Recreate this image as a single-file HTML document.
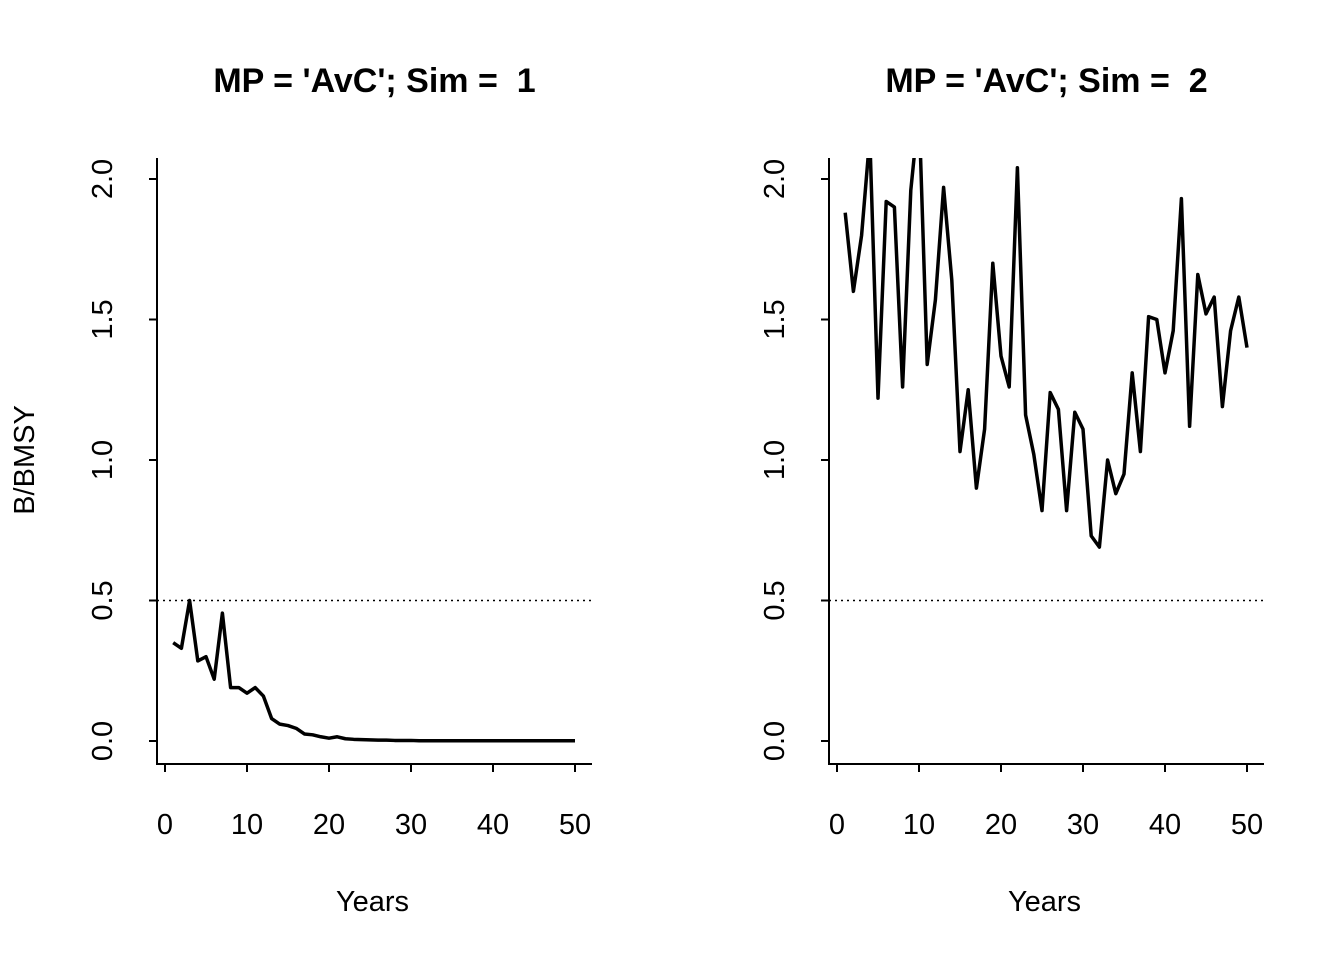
<!DOCTYPE html>
<html><head><meta charset="utf-8"><style>
body{margin:0;background:#fff}
svg{display:block;font-family:"Liberation Sans",Arial,sans-serif}
svg text{white-space:pre}
</style></head><body>
<svg id="chart" width="1344" height="960"></svg>
<script>
const years = Array.from({length:50},(_,i)=>i+1);
const sim1 = [0.35,0.33,0.50,0.285,0.30,0.22,0.455,0.19,0.19,0.17,0.19,0.16,0.08,0.06,0.055,0.045,0.025,0.022,0.015,0.01,0.015,0.008,0.006,0.005,0.004,0.003,0.003,0.002,0.002,0.002,0.001,0.001,0.001,0.001,0.001,0.001,0.001,0.001,0.001,0.001,0.001,0.001,0.001,0.001,0.001,0.001,0.001,0.001,0.001,0.001];
const sim2 = [1.88,1.60,1.80,2.15,1.22,1.92,1.90,1.26,1.96,2.25,1.34,1.57,1.97,1.64,1.03,1.25,0.90,1.11,1.70,1.37,1.26,2.04,1.16,1.02,0.82,1.24,1.18,0.82,1.17,1.11,0.73,0.69,1.00,0.88,0.95,1.31,1.03,1.51,1.50,1.31,1.46,1.93,1.12,1.66,1.52,1.58,1.19,1.46,1.58,1.40];
const xTicks = [0,10,20,30,40,50];
const yTicks = [0,0.5,1.0,1.5,2.0];
const yTickLabels = ["0.0","0.5","1.0","1.5","2.0"];
const titles = ["MP = 'AvC'; Sim =  1","MP = 'AvC'; Sim =  2"];
const refLine = 0.5;

const NS="http://www.w3.org/2000/svg";
const svg=document.getElementById('chart');
function mk(tag,attrs,parent){const e=document.createElementNS(NS,tag);for(const k in attrs)e.setAttribute(k,attrs[k]);(parent||svg).appendChild(e);return e;}

function panel(idx, series, x0){
  const g=mk('g',{});
  
  
  const sx=v=>x0+8+v*8.2;
  const sy=v=>741-v*281;
  const left=x0, right=x0+435, top=158, bottom=764;
  const cid='clip'+idx;
  const cp=mk('clipPath',{id:cid},g);mk('rect',{x:left,y:top,width:right-left,height:bottom-top},cp);
  const t=mk('text',{x:(left+right)/2,y:92,'text-anchor':'middle','font-size':34,'font-weight':'bold'},g);
  t.textContent=titles[idx];
  
  
  const ax=mk('path',{d:`M${left},${top}V${bottom}H${right}`,stroke:'#000','stroke-width':2,fill:'none'},g);
  
  
  xTicks.forEach(v=>{
    mk('line',{x1:sx(v),x2:sx(v),y1:bottom,y2:bottom+8,stroke:'#000','stroke-width':2},g);
    const l=mk('text',{x:sx(v),y:834,'text-anchor':'middle','font-size':29},g);l.textContent=v;
    
    
  });
  yTicks.forEach((v,i)=>{
    mk('line',{x1:left,x2:left-8,y1:sy(v),y2:sy(v),stroke:'#000','stroke-width':2},g);
    const l=mk('text',{x:0,y:0,'text-anchor':'middle','font-size':29,transform:`translate(${left-45},${sy(v)}) rotate(-90)`},g);l.textContent=yTickLabels[i];
    
    
  });
  const xl=mk('text',{x:(left+right)/2-2,y:911,'text-anchor':'middle','font-size':29},g);xl.textContent='Years';
  
  
  const rl=mk('line',{x1:left,x2:right,y1:sy(refLine),y2:sy(refLine),stroke:'#000','stroke-width':1.5,'stroke-dasharray':'2,4'},g);
  
  
  const pts=series.map((v,i)=>sx(years[i])+','+sy(v)).join(' ');
  const pl=mk('polyline',{points:pts,fill:'none',stroke:'#000','stroke-width':3.5,'stroke-linejoin':'round','clip-path':`url(#${cid})`},g);
  
  
}
panel(0,sim1,157);
panel(1,sim2,829);
const yl=mk('text',{x:0,y:0,'text-anchor':'middle','font-size':29,transform:'translate(34,460) rotate(-90)'});
yl.textContent='B/BMSY';


</script>
</body></html>
